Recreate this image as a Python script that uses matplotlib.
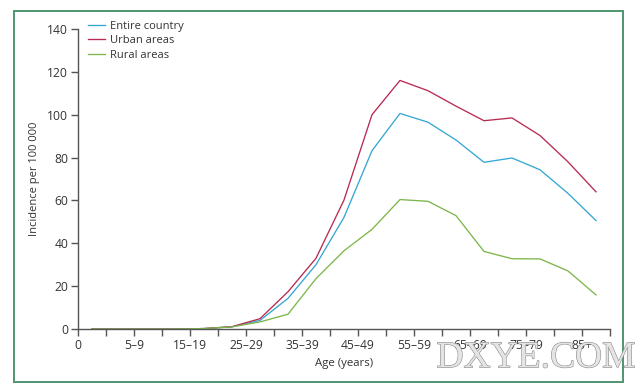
import matplotlib
matplotlib.use("Agg")
import matplotlib.pyplot as plt
import matplotlib.patheffects as pe
from matplotlib.patches import Rectangle

plt.rcParams['font.family'] = ['Open Sans', 'DejaVu Sans']

age_groups = ["0", "1–4", "5–9", "10–14", "15–19", "20–24", "25–29", "30–34",
              "35–39", "40–44", "45–49", "50–54", "55–59", "60–64", "65–69",
              "70–74", "75–79", "80–84", "85+"]
entire_country = [0, 0, 0, 0, 0.2, 1.0, 4.0, 14.3, 30.0, 52.1, 83.2, 100.6,
                  96.5, 88.2, 77.8, 79.8, 74.3, 63.3, 50.6]
urban_areas = [0, 0, 0, 0, 0.2, 1.1, 4.8, 17.4, 33.0, 60.2, 100.0, 116.0,
               111.2, 104.0, 97.2, 98.5, 90.3, 78.0, 64.0]
rural_areas = [0, 0, 0, 0, 0.2, 1.0, 3.3, 6.9, 23.5, 36.5, 46.5, 60.4,
               59.6, 52.9, 36.2, 32.8, 32.7, 27.1, 15.9]
series_labels = ["Entire country", "Urban areas", "Rural areas"]
yticks = [0, 20, 40, 60, 80, 100, 120, 140]

fig = plt.figure(figsize=(6.4, 3.92), dpi=100)
ax = fig.add_axes([78/640, 1 - 329/392, 532/640, 300/392])

x = [i + 0.5 for i in range(len(age_groups))]
c_blue, c_red, c_green = '#36a7d2', '#b92a50', '#7db64a'
ax.plot(x, entire_country, color=c_blue, lw=0.95, label=series_labels[0])
ax.plot(x, urban_areas, color=c_red, lw=0.95, label=series_labels[1])
ax.plot(x, rural_areas, color=c_green, lw=0.95, label=series_labels[2])

ax.set_xlim(0, len(age_groups))
ax.set_ylim(0, 140)
ax.set_yticks(yticks)
ax.set_xticks(range(len(age_groups) + 1))
ax.set_xticklabels([age_groups[i] if (i % 2 == 0 and i < len(age_groups)) else ""
                    for i in range(len(age_groups) + 1)])
for s in ['top', 'right']:
    ax.spines[s].set_visible(False)
for s in ['left', 'bottom']:
    ax.spines[s].set_color('#555555')
    ax.spines[s].set_linewidth(1.0)
ax.tick_params(axis='both', colors='#555555', labelcolor='#333333', labelsize=8.7,
               width=1.0, length=5, pad=2)
ax.set_ylabel("Incidence per 100 000", fontsize=8, color='#333333')
ax.set_xlabel("Age (years)", fontsize=8.2, color='#333333')
ax.yaxis.set_label_coords(-(78 - 40)/532, 0.5)
ax.xaxis.set_label_coords(0.5, -(358 - 329)/300)
ax.xaxis.label.set_va('top')

leg = ax.legend(loc='upper left', bbox_to_anchor=(88/640, 1 - 21/392),
                bbox_transform=fig.transFigure, frameon=False, fontsize=8,
                handlelength=1.5, handletextpad=0.45, labelspacing=0.3,
                borderpad=0, borderaxespad=0)
for t in leg.get_texts():
    t.set_color('#333333')

fig.add_artist(Rectangle((14/640, 1 - 382/392), (623 - 14)/640, (382 - 11)/392,
                         transform=fig.transFigure, fill=False,
                         ec='#4f9470', lw=1.4))

fig.text(536/640, 1 - 358/392, "DXYE.COM", family=['Liberation Serif'],
         fontsize=27, color='#e4e4e4', ha='center', va='center',
         path_effects=[pe.withStroke(linewidth=0.8, foreground='#8a8a8a')])

fig.savefig("out.png", dpi=100)
